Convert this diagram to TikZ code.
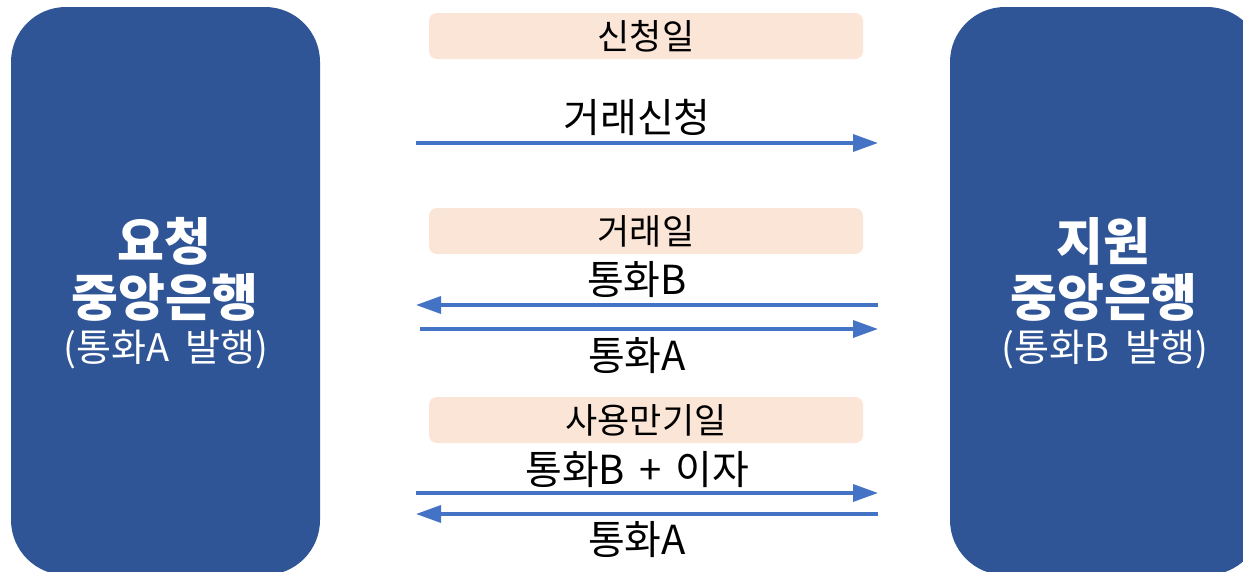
\documentclass[tikz,border=0pt]{standalone}
\usepackage{fontspec}
\setmainfont{Noto Sans CJK KR}
\usetikzlibrary{arrows.meta}
\definecolor{bankblue}{HTML}{2F5597}
\definecolor{arrowblue}{HTML}{4472C4}
\definecolor{datefill}{HTML}{FBE5D6}
\tikzset{
  bank/.style={fill=bankblue, draw=none, rounded corners=55pt},
  datebox/.style={fill=datefill, draw=none, rounded corners=8pt, minimum width=434pt, minimum height=46pt, inner sep=0pt},
  datetext/.style={font=\fontsize{35}{39}\selectfont, text=black, inner sep=0pt},
  flowtext/.style={font=\fontsize{40}{45}\selectfont, text=black, inner sep=0pt},
  titletext/.style={font=\fontsize{51}{56}\selectfont\bfseries, text=white, inner sep=0pt},
  subtext/.style={font=\fontsize{38}{42}\selectfont, text=white, inner sep=0pt},
  flow/.style={draw=arrowblue, line width=3.5pt, -{Triangle[length=25pt,width=17pt]}},
}
\begin{document}
\begin{tikzpicture}[x=1pt,y=-1pt]
\useasboundingbox (0,0) rectangle (1243,571);
\begin{scope}
\clip (0,0) rectangle (1243,571);
\fill[bank] (11,7) rectangle (320,575);
\fill[bank] (950,7) rectangle (1262,575);
\end{scope}
% left bank
\node[titletext] (l1) at (164,241) {요청};
\node[titletext] (l2) at (165,297) {중앙은행};
\node[subtext] (l3) at (166,350) {(통화A\hspace{8pt} 발행)};
% right bank
\node[titletext] (r1) at (1103,241) {지원};
\node[titletext] (r2) at (1104,297) {중앙은행};
\node[subtext] (r3) at (1105,350) {(통화B\hspace{8pt} 발행)};
% date boxes
\node[datebox] (d1) at (646,36) {};
\node[datetext] (d1t) at (d1.center) {신청일};
\node[datebox] (d2) at (646,231) {};
\node[datetext] (d2t) at (d2.center) {거래일};
\node[datebox] (d3) at (646,420) {};
\node[datetext] (d3t) at (d3.center) {사용만기일};
% flow labels
\node[flowtext] (f1) at (637,117) {거래신청};
\node[flowtext] (f2) at (637,280) {통화B};
\node[flowtext] (f3) at (637,356) {통화A};
\node[flowtext] (f4) at (637,470) {통화B\hspace{5pt} +\hspace{5pt} 이자};
\node[flowtext] (f5) at (637,540) {통화A};
% arrow endpoints
\coordinate (a1s) at (416,143); \coordinate (a1e) at (878,143);
\coordinate (a2s) at (878,305); \coordinate (a2e) at (416,305);
\coordinate (a3s) at (420,329); \coordinate (a3e) at (878,329);
\coordinate (a4s) at (416,493); \coordinate (a4e) at (878,493);
\coordinate (a5s) at (878,514); \coordinate (a5e) at (416,514);
\draw[flow] (a1s) -- (a1e);
\draw[flow] (a2s) -- (a2e);
\draw[flow] (a3s) -- (a3e);
\draw[flow] (a4s) -- (a4e);
\draw[flow] (a5s) -- (a5e);
\end{tikzpicture}
\end{document}
